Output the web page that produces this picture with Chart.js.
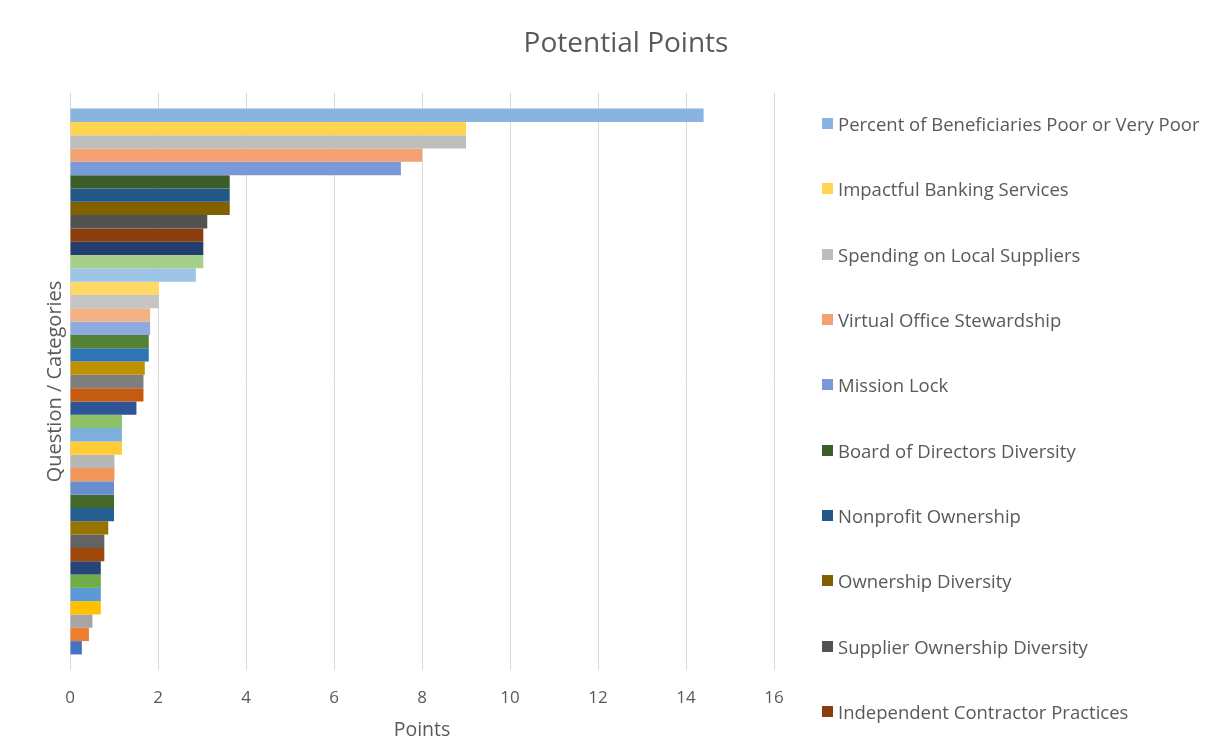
<!DOCTYPE html>
<html>
<head>
<meta charset="utf-8">
<title>Potential Points</title>
<script src="https://cdn.jsdelivr.net/npm/chart.js@4.4.1/dist/chart.umd.min.js"></script>
<style>
    body { margin: 0; background: #fff; }
    #wrap { position: relative; width: 1218px; height: 742px; }
    #legend {
        position: absolute; left: 822px; top: 91px;
        font-family: "Open Sans", sans-serif; font-size: 18.5px; color: #595959;
    }
    #legend .item { height: 65.33px; display: flex; align-items: center; white-space: nowrap; }
    #legend .box { width: 11px; height: 11px; margin-right: 5px; flex: none; }
</style>
</head>
<body>
<div id="wrap">
    <canvas id="chart" width="1218" height="742"></canvas>
    <div id="legend"></div>
</div>
<script>
// series names, top bar first (only the first ten are visible in the legend)
const seriesNames = [
    'Percent of Beneficiaries Poor or Very Poor',
    'Impactful Banking Services',
    'Spending on Local Suppliers',
    'Virtual Office Stewardship',
    'Mission Lock',
    'Board of Directors Diversity',
    'Nonprofit Ownership',
    'Ownership Diversity',
    'Supplier Ownership Diversity',
    'Independent Contractor Practices'
];

// potential points per question, top bar first
const points = [
    14.4, 9, 9, 8, 7.52, 3.63, 3.63, 3.63, 3.12, 3.03,
    3.03, 3.03, 2.86, 2.02, 2.02, 1.82, 1.82, 1.79, 1.79, 1.7,
    1.67, 1.67, 1.51, 1.18, 1.18, 1.18, 1.01, 1.01, 1.0, 1.0,
    1.0, 0.87, 0.78, 0.78, 0.7, 0.7, 0.7, 0.7, 0.51, 0.43,
    0.27
];

const colors = [
    '#8AB3E0', '#FFD44F', '#BDBDBD', '#F3A172', '#7A99D7', '#3B5E2B', '#22578A', '#806000', '#525252', '#8C3D0F',
    '#213E6F', '#A6CF8C', '#9DC3E6', '#FFD966', '#C5C5C5', '#F4B183', '#8FAADC', '#548235', '#2E75B6', '#BF9000',
    '#7F7F7F', '#C55A11', '#2F5597', '#8CC168', '#7CAFDD', '#FFCD33', '#B7B7B7', '#F1975A', '#698ED0', '#43682B',
    '#255E91', '#997300', '#636363', '#9E480E', '#264478', '#70AD47', '#5B9BD5', '#FFC000', '#A5A5A5', '#ED7D31',
    '#4472C4'
];

const xTicks = [0, 2, 4, 6, 8, 10, 12, 14, 16];

const textColor = '#595959';
const font = '"Open Sans", sans-serif';

const datasets = points.map((v, i) => ({
    label: seriesNames[i] || '',
    data: [v],
    backgroundColor: colors[i],
    borderWidth: 0,
    barPercentage: 1,
    categoryPercentage: 0.946
}));

new Chart(document.getElementById('chart').getContext('2d'), {
    type: 'bar',
    data: { labels: [''], datasets: datasets },
    options: {
        indexAxis: 'y',
        responsive: false,
        animation: false,
        layout: { padding: { left: 34, right: 0, top: 0, bottom: 0 } },
        plugins: {
            legend: { display: false },
            tooltip: { enabled: false },
            title: {
                display: true,
                text: 'Potential Points',
                color: textColor,
                font: { family: font, size: 28, weight: 'normal' },
                padding: { top: 27, bottom: 32.4 }
            }
        },
        scales: {
            x: {
                min: xTicks[0],
                max: xTicks[xTicks.length - 1],
                afterBuildTicks: s => { s.ticks = xTicks.map(v => ({ value: v })); },
                afterFit: s => { s.height = 72; },
                grid: { color: '#D9D9D9', drawTicks: false },
                border: { display: false },
                ticks: { color: textColor, font: { family: font, size: 17 }, padding: 18 },
                title: {
                    display: true, text: 'Points', color: textColor,
                    font: { family: font, size: 19.5 }, padding: { top: 0, bottom: 0 }
                }
            },
            y: {
                afterFit: s => { s.width = 36; },
                grid: { display: false },
                border: { display: false },
                ticks: { display: false },
                title: {
                    display: true, text: 'Question / Categories', color: textColor,
                    font: { family: font, size: 20 }, padding: { top: 9, bottom: 0 }
                }
            },
            // empty right-hand box that leaves room for the legend
            side: {
                type: 'linear',
                position: 'right',
                afterFit: s => { s.width = 444; },
                grid: { display: false },
                border: { display: false },
                ticks: { display: false }
            }
        }
    }
});

// legend, one row per visible series
const legend = document.getElementById('legend');
seriesNames.forEach((name, i) => {
    const item = document.createElement('div');
    item.className = 'item';
    const box = document.createElement('span');
    box.className = 'box';
    box.style.background = colors[i];
    item.appendChild(box);
    item.appendChild(document.createTextNode(name));
    legend.appendChild(item);
});
</script>
</body>
</html>
